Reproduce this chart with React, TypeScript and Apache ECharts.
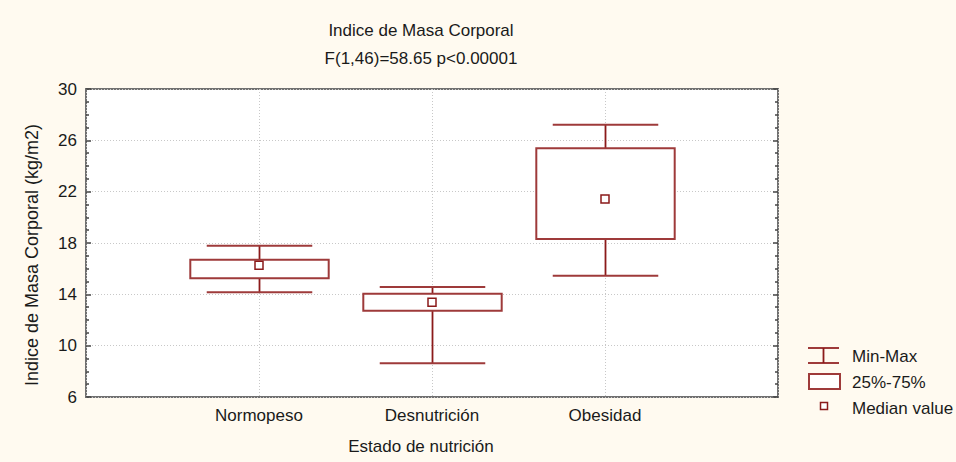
import React, { useEffect, useRef } from "react";
import * as echarts from "echarts";

const categories = ["Normopeso", "Desnutrición", "Obesidad"];
const minValues = [14.16, 8.63, 15.45];
const q1Values = [15.25, 12.73, 18.31];
const medianValues = [16.26, 13.38, 21.43];
const q3Values = [16.7, 14.05, 25.38];
const maxValues = [17.79, 14.57, 27.22];

const titleText = "Indice de Masa Corporal";
const subtitleText = "F(1,46)=58.65 p<0.00001";
const yAxisName = "Indice de Masa Corporal (kg/m2)";
const xAxisName = "Estado de nutrición";
const legendLabels = ["Min-Max", "25%-75%", "Median value"];

const FONT = "'Liberation Sans', Arial, sans-serif";
const RED = "#9E3A3A";
const DARK_RED = "#8B1A1A";

export default function App() {
  const ref = useRef<HTMLDivElement>(null);

  useEffect(() => {
    if (!ref.current) return;
    const chart = echarts.init(ref.current, null, { renderer: "svg" });

    const boxData = categories.map((_, i) => [
      i + 1,
      minValues[i],
      q1Values[i],
      q3Values[i],
      maxValues[i],
    ]);
    const medianData = categories.map((_, i) => [i + 1, medianValues[i]]);

    const yAxisCommon = {
      type: "value",
      min: 6,
      max: 30,
      interval: 4,
      axisLine: { show: false },
      axisTick: { show: true, inside: true, length: 5, lineStyle: { color: "#444", width: 1.5 } },
      minorTick: { show: true, splitNumber: 4, length: 3, lineStyle: { color: "#444", width: 1.5 } },
    };

    chart.setOption({
      animation: false,
      backgroundColor: "#FFFAF0",
      textStyle: { fontFamily: FONT },
      grid: {
        left: 86,
        right: 178,
        top: 89,
        bottom: 65,
        show: true,
        backgroundColor: "#ffffff",
        borderColor: "#707070",
        borderWidth: 2,
      },
      xAxis: {
        type: "value",
        min: 0,
        max: 4,
        interval: 1,
        axisLine: { show: false },
        axisTick: { show: false },
        axisLabel: {
          margin: 10,
          fontSize: 17,
          color: "#1a1a1a",
          fontFamily: FONT,
          formatter: (v: number) => categories[v - 1] ?? "",
        },
        splitLine: { show: true, lineStyle: { color: "#C8C8C8", type: [1, 2], width: 1 } },
      },
      yAxis: [
        {
          ...yAxisCommon,
          position: "left",
          axisLabel: { margin: 9, fontSize: 17, color: "#1a1a1a", fontFamily: FONT },
          splitLine: { show: true, lineStyle: { color: "#C8C8C8", type: [1, 2], width: 1 } },
        },
        {
          ...yAxisCommon,
          position: "right",
          axisLabel: { show: false },
          splitLine: { show: false },
        },
      ],
      series: [
        {
          type: "custom",
          data: boxData,
          encode: { x: 0, y: [1, 2, 3, 4] },
          z: 2,
          renderItem: (params: any, api: any) => {
            const x = api.value(0);
            const lo = api.coord([x, api.value(1)]);
            const q1 = api.coord([x, api.value(2)]);
            const q3 = api.coord([x, api.value(3)]);
            const hi = api.coord([x, api.value(4)]);
            const boxW = api.size([0.8, 0])[0];
            const capW = api.size([0.61, 0])[0];
            const cx = Math.round(lo[0]) + 0.5;
            const lineStyle = { stroke: DARK_RED, lineWidth: 1.8 };
            return {
              type: "group",
              children: [
                { type: "line", shape: { x1: cx, y1: hi[1], x2: cx, y2: q3[1] }, style: lineStyle },
                { type: "line", shape: { x1: cx, y1: q1[1], x2: cx, y2: lo[1] }, style: lineStyle },
                { type: "line", shape: { x1: cx - capW / 2, y1: hi[1], x2: cx + capW / 2, y2: hi[1] }, style: { stroke: RED, lineWidth: 2 } },
                { type: "line", shape: { x1: cx - capW / 2, y1: lo[1], x2: cx + capW / 2, y2: lo[1] }, style: { stroke: RED, lineWidth: 2 } },
                {
                  type: "rect",
                  shape: { x: cx - boxW / 2, y: q3[1], width: boxW, height: q1[1] - q3[1] },
                  style: { fill: "#ffffff", stroke: RED, lineWidth: 2 },
                },
              ],
            };
          },
        },
        {
          type: "scatter",
          data: medianData,
          symbol: "rect",
          symbolSize: 8,
          z: 3,
          itemStyle: { color: "#ffffff", borderColor: DARK_RED, borderWidth: 1.5, opacity: 1 },
        },
      ],
      graphic: [
        {
          type: "text",
          x: 421,
          y: 30,
          style: { text: titleText, fontSize: 17, fontFamily: FONT, fill: "#1a1a1a", align: "center", verticalAlign: "middle" },
        },
        {
          type: "text",
          x: 421,
          y: 58,
          style: { text: subtitleText, fontSize: 17, fontFamily: FONT, fill: "#1a1a1a", align: "center", verticalAlign: "middle" },
        },
        {
          type: "text",
          x: 421,
          y: 446,
          style: { text: xAxisName, fontSize: 17, fontFamily: FONT, fill: "#1a1a1a", align: "center", verticalAlign: "middle" },
        },
        {
          type: "text",
          x: 32,
          y: 255,
          rotation: Math.PI / 2,
          style: { text: yAxisName, fontSize: 18, fontFamily: FONT, fill: "#1a1a1a", align: "center", verticalAlign: "middle" },
        },
        // legend: Min-Max
        { type: "line", shape: { x1: 808, y1: 348, x2: 839, y2: 348 }, style: { stroke: RED, lineWidth: 2 } },
        { type: "line", shape: { x1: 808, y1: 363, x2: 839, y2: 363 }, style: { stroke: RED, lineWidth: 2 } },
        { type: "line", shape: { x1: 823.5, y1: 348, x2: 823.5, y2: 363 }, style: { stroke: DARK_RED, lineWidth: 1.8 } },
        {
          type: "text",
          x: 852,
          y: 356,
          style: { text: legendLabels[0], fontSize: 17, fontFamily: FONT, fill: "#1a1a1a", align: "left", verticalAlign: "middle" },
        },
        // legend: 25%-75%
        { type: "rect", shape: { x: 809, y: 374, width: 31, height: 15 }, style: { fill: "#ffffff", stroke: RED, lineWidth: 2 } },
        {
          type: "text",
          x: 852,
          y: 382,
          style: { text: legendLabels[1], fontSize: 17, fontFamily: FONT, fill: "#1a1a1a", align: "left", verticalAlign: "middle" },
        },
        // legend: median
        { type: "rect", shape: { x: 820.5, y: 402.5, width: 7, height: 7 }, style: { fill: "#ffffff", stroke: DARK_RED, lineWidth: 1.5 } },
        {
          type: "text",
          x: 852,
          y: 408,
          style: { text: legendLabels[2], fontSize: 17, fontFamily: FONT, fill: "#1a1a1a", align: "left", verticalAlign: "middle" },
        },
      ],
    });

    return () => chart.dispose();
  }, []);

  return (
    <div
      ref={ref}
      style={{ position: "fixed", left: 0, top: 0, width: 956, height: 462 }}
    />
  );
}
